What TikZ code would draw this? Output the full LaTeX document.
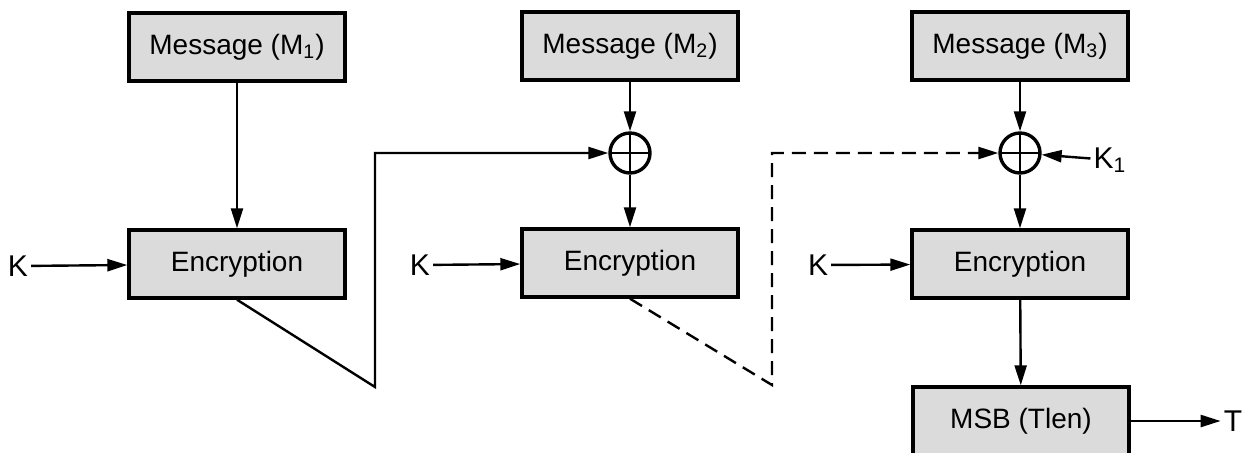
\documentclass[tikz,border=0pt]{standalone}
\usepackage{fontspec}
\setmainfont{Liberation Sans}
\usetikzlibrary{arrows.meta,positioning}

\begin{document}
\begin{tikzpicture}[x=0.5pt, y=-0.5pt, >={Triangle[length=10pt,width=6pt]}, line width=1.2pt]
\tikzstyle{block} = [rectangle, draw, line width=1.7pt, fill=gray!28,
minimum width=108pt, minimum height=34pt, font=\fontsize{14}{16}\selectfont]
\tikzstyle{xor} = [circle, draw, line width=1.7pt, minimum size=20pt, inner sep=0pt,
path picture={\draw[line width=0.8pt] (path picture bounding box.north) -- (path picture bounding box.south)
(path picture bounding box.west) -- (path picture bounding box.east);}]
\tikzstyle{lbl} = [inner sep=1pt, font=\fontsize{15}{17}\selectfont]
\useasboundingbox (0,0) rectangle (1243,452);
\node[block] at (237,47) (M1){Message (M\textsubscript{1})};
\node[block] at (237,264) (E1){Encryption};
\node[block] at (630,46) (M2){Message (M\textsubscript{2})};
\node[xor] at (630,153) (X2){};
\node[block] at (630,263) (E2){Encryption};
\node[block] at (1020,46) (M3){Message (M\textsubscript{3})};
\node[xor] at (1020,153) (X3){};
\node[block] at (1020,264) (E3){Encryption};
\node[block] at (1021,421) (S){MSB (Tlen)};
\node[lbl] at (18,266) (K1){K};
\node[lbl] at (420,265) (K2){K};
\node[lbl] at (818,265) (K3){K};
\node[lbl] at (1110,160) (KA){K\textsubscript{1}};
\node[lbl] at (1233,421) (T){T};
\coordinate (C1) at (375,387);
\coordinate (C2) at (375,153);
\coordinate (D1) at (772,385);
\coordinate (D2) at (772,153);
%% arrows
\draw[->] (M1) -- (E1);
\draw[->] (K1) -- (E1);
\draw[->] (E1.south) -- (C1) -- (C2) -- (X2);
\draw[->] (M2) -- (X2);
\draw[->] (X2) -- (E2);
\draw[->] (K2) -- (E2);
\draw[->, dashed, dash pattern=on 7pt off 4pt] (E2.south) -- (D1) -- (D2) -- (X3);
\draw[->] (M3) -- (X3);
\draw[->] (KA) -- (X3);
\draw[->] (X3) -- (E3);
\draw[->] (K3) -- (E3);
\draw[->] (E3) -- (S);
\draw[->] (S) -- (T);
\end{tikzpicture}
\end{document}
